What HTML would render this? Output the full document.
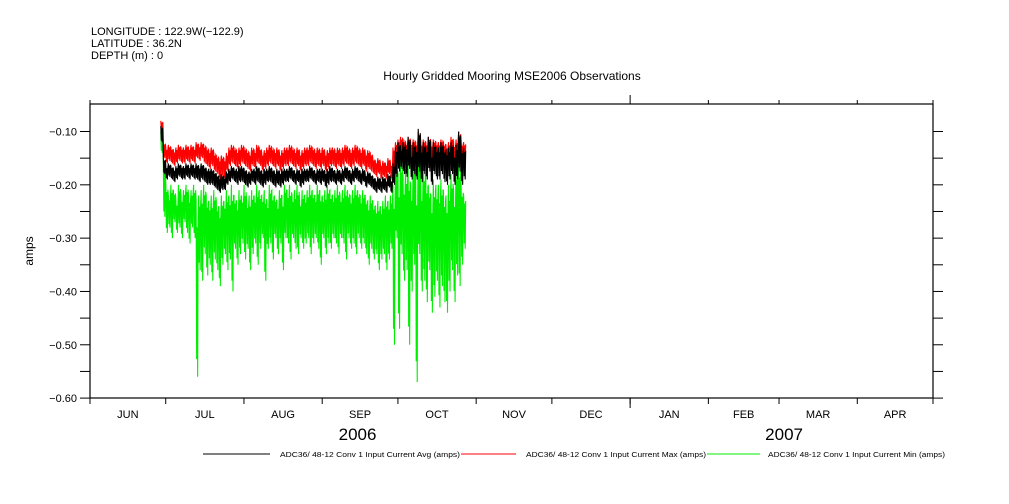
<!DOCTYPE html>
<html><head><meta charset="utf-8"><style>
html,body{margin:0;padding:0;background:#fff;}
svg{display:block;font-family:"Liberation Sans",sans-serif;}
</style></head><body>
<svg id="chart" width="1009" height="504" viewBox="0 0 1009 504" xmlns="http://www.w3.org/2000/svg">
<g font-size="11" fill="#000">
<text x="91" y="35">LONGITUDE : 122.9W(−122.9)</text>
<text x="91" y="47">LATITUDE : 36.2N</text>
<text x="91" y="59">DEPTH (m) : 0</text>
</g>
<text x="512" y="80" font-size="12" text-anchor="middle">Hourly Gridded Mooring MSE2006 Observations</text>
<text x="33" y="251" font-size="12" text-anchor="middle" transform="rotate(-90 33 251)">amps</text>
<g id="axes"></g>
<g id="series"></g>
<g id="legend" font-size="7">
<line x1="203" y1="454" x2="270" y2="454" stroke="#000"/>
<text x="280" y="457" textLength="180" lengthAdjust="spacingAndGlyphs">ADC36/ 48-12 Conv 1 Input Current Avg (amps)</text>
<line x1="461" y1="454" x2="516" y2="454" stroke="#ff0000"/>
<text x="526" y="457" textLength="180" lengthAdjust="spacingAndGlyphs">ADC36/ 48-12 Conv 1 Input Current Max (amps)</text>
<line x1="707" y1="454" x2="760" y2="454" stroke="#00ee00"/>
<text x="768" y="457" textLength="177" lengthAdjust="spacingAndGlyphs">ADC36/ 48-12 Conv 1 Input Current Min (amps)</text>
</g>
</svg>
<script>
// days since 2006-06-01, data days 28..148
const startDay = 28;
const yTicks = [-0.10,-0.20,-0.30,-0.40,-0.50,-0.60];
const yTickLabels = ["-0.10","-0.20","-0.30","-0.40","-0.50","-0.60"];
const monthStarts = [0,30,61,92,122,153,183,214,245,273,304,334];
const monthLabels = ["JUN","JUL","AUG","SEP","OCT","NOV","DEC","JAN","FEB","MAR","APR"];
const yearLabels = ["2006","2007"];
const yearCenters = [106,275];
const maxHi = [-0.08,-0.12,-0.13,-0.125,-0.13,-0.135,-0.13,-0.125,-0.13,-0.13,
-0.125,-0.13,-0.125,-0.13,-0.12,-0.125,-0.12,-0.125,-0.13,-0.135,
-0.13,-0.14,-0.145,-0.15,-0.145,-0.15,-0.14,-0.13,-0.125,-0.13,
-0.135,-0.13,-0.125,-0.13,-0.135,-0.14,-0.13,-0.135,-0.125,-0.13,
-0.14,-0.135,-0.13,-0.125,-0.13,-0.135,-0.13,-0.14,-0.135,-0.13,
-0.13,-0.125,-0.13,-0.135,-0.13,-0.14,-0.135,-0.13,-0.13,-0.125,
-0.13,-0.135,-0.13,-0.135,-0.13,-0.14,-0.135,-0.13,-0.13,-0.135,
-0.13,-0.135,-0.13,-0.125,-0.13,-0.135,-0.13,-0.125,-0.13,-0.135,
-0.13,-0.14,-0.135,-0.14,-0.15,-0.155,-0.15,-0.16,-0.155,-0.16,
-0.15,-0.16,-0.13,-0.12,-0.115,-0.11,-0.115,-0.12,-0.11,-0.12,
-0.115,-0.12,-0.10,-0.12,-0.115,-0.12,-0.11,-0.12,-0.115,-0.12,
-0.12,-0.115,-0.12,-0.125,-0.12,-0.11,-0.12,-0.115,-0.10,-0.12,-0.12];
const maxLo = [-0.10,-0.15,-0.16,-0.155,-0.16,-0.165,-0.16,-0.155,-0.16,-0.16,
-0.155,-0.16,-0.155,-0.16,-0.15,-0.155,-0.15,-0.16,-0.165,-0.17,
-0.165,-0.175,-0.18,-0.19,-0.185,-0.19,-0.175,-0.165,-0.16,-0.165,
-0.17,-0.165,-0.16,-0.165,-0.17,-0.175,-0.165,-0.17,-0.16,-0.165,
-0.175,-0.17,-0.165,-0.16,-0.165,-0.17,-0.165,-0.175,-0.17,-0.165,
-0.165,-0.16,-0.165,-0.17,-0.165,-0.175,-0.17,-0.165,-0.165,-0.16,
-0.165,-0.17,-0.165,-0.17,-0.165,-0.175,-0.17,-0.165,-0.165,-0.17,
-0.165,-0.17,-0.165,-0.16,-0.165,-0.17,-0.165,-0.16,-0.165,-0.17,
-0.165,-0.175,-0.17,-0.175,-0.18,-0.185,-0.18,-0.19,-0.185,-0.19,
-0.18,-0.19,-0.17,-0.155,-0.15,-0.145,-0.15,-0.155,-0.145,-0.155,
-0.15,-0.16,-0.15,-0.165,-0.155,-0.16,-0.15,-0.175,-0.155,-0.16,
-0.16,-0.15,-0.165,-0.17,-0.16,-0.15,-0.18,-0.16,-0.15,-0.165,-0.16];
const avgHi = [-0.09,-0.15,-0.165,-0.16,-0.165,-0.17,-0.165,-0.16,-0.165,-0.165,
-0.16,-0.165,-0.16,-0.165,-0.16,-0.165,-0.16,-0.165,-0.17,-0.17,
-0.17,-0.175,-0.18,-0.185,-0.18,-0.185,-0.175,-0.17,-0.165,-0.17,
-0.17,-0.165,-0.165,-0.17,-0.175,-0.175,-0.17,-0.17,-0.165,-0.17,
-0.175,-0.17,-0.17,-0.165,-0.17,-0.175,-0.17,-0.175,-0.17,-0.17,
-0.17,-0.165,-0.17,-0.175,-0.17,-0.175,-0.17,-0.17,-0.17,-0.165,
-0.17,-0.175,-0.17,-0.17,-0.17,-0.175,-0.17,-0.165,-0.17,-0.175,
-0.17,-0.175,-0.17,-0.165,-0.17,-0.175,-0.17,-0.165,-0.17,-0.175,
-0.17,-0.18,-0.175,-0.18,-0.185,-0.19,-0.185,-0.19,-0.185,-0.19,
-0.18,-0.19,-0.16,-0.13,-0.12,-0.13,-0.12,-0.125,-0.11,-0.14,
-0.12,-0.13,-0.095,-0.13,-0.12,-0.13,-0.11,-0.14,-0.12,-0.13,
-0.13,-0.12,-0.13,-0.135,-0.13,-0.12,-0.14,-0.125,-0.10,-0.13,-0.13];
const avgLo = [-0.12,-0.18,-0.19,-0.185,-0.19,-0.195,-0.19,-0.185,-0.19,-0.19,
-0.185,-0.19,-0.185,-0.19,-0.19,-0.195,-0.19,-0.195,-0.2,-0.2,
-0.2,-0.205,-0.21,-0.215,-0.21,-0.21,-0.2,-0.195,-0.19,-0.195,
-0.2,-0.195,-0.195,-0.2,-0.205,-0.2,-0.195,-0.2,-0.195,-0.2,
-0.205,-0.2,-0.195,-0.195,-0.2,-0.205,-0.2,-0.205,-0.2,-0.195,
-0.195,-0.19,-0.195,-0.2,-0.195,-0.205,-0.2,-0.195,-0.195,-0.19,
-0.195,-0.2,-0.195,-0.2,-0.195,-0.205,-0.2,-0.195,-0.195,-0.2,
-0.195,-0.2,-0.195,-0.19,-0.195,-0.2,-0.195,-0.19,-0.195,-0.2,
-0.195,-0.205,-0.2,-0.205,-0.21,-0.215,-0.21,-0.215,-0.21,-0.215,
-0.205,-0.215,-0.2,-0.185,-0.175,-0.17,-0.18,-0.185,-0.17,-0.19,
-0.18,-0.19,-0.175,-0.195,-0.18,-0.19,-0.175,-0.2,-0.18,-0.19,
-0.19,-0.18,-0.195,-0.2,-0.19,-0.18,-0.2,-0.19,-0.175,-0.2,-0.19];
const minHi = [-0.10,-0.16,-0.2,-0.22,-0.2,-0.21,-0.23,-0.2,-0.22,-0.21,
-0.2,-0.22,-0.21,-0.2,-0.23,-0.22,-0.21,-0.2,-0.22,-0.23,
-0.22,-0.21,-0.23,-0.24,-0.22,-0.23,-0.21,-0.22,-0.2,-0.22,
-0.23,-0.21,-0.22,-0.2,-0.23,-0.22,-0.21,-0.22,-0.2,-0.21,
-0.22,-0.21,-0.23,-0.2,-0.21,-0.22,-0.23,-0.21,-0.22,-0.2,
-0.21,-0.2,-0.22,-0.21,-0.2,-0.23,-0.21,-0.22,-0.21,-0.2,
-0.21,-0.22,-0.2,-0.21,-0.22,-0.21,-0.2,-0.21,-0.22,-0.21,
-0.2,-0.22,-0.21,-0.2,-0.21,-0.22,-0.21,-0.2,-0.21,-0.22,
-0.21,-0.22,-0.23,-0.22,-0.23,-0.24,-0.23,-0.24,-0.23,-0.22,
-0.23,-0.22,-0.2,-0.16,-0.18,-0.15,-0.19,-0.17,-0.16,-0.2,
-0.15,-0.18,-0.14,-0.2,-0.16,-0.18,-0.2,-0.22,-0.19,-0.2,
-0.2,-0.19,-0.21,-0.22,-0.2,-0.18,-0.21,-0.16,-0.15,-0.2,-0.22];
const minLo = [-0.14,-0.26,-0.29,-0.28,-0.3,-0.27,-0.29,-0.28,-0.3,-0.27,
-0.29,-0.31,-0.28,-0.3,-0.56,-0.36,-0.38,-0.33,-0.37,-0.35,
-0.38,-0.34,-0.36,-0.39,-0.35,-0.33,-0.36,-0.34,-0.4,-0.32,
-0.35,-0.33,-0.31,-0.34,-0.32,-0.36,-0.33,-0.31,-0.35,-0.32,
-0.3,-0.38,-0.32,-0.31,-0.34,-0.3,-0.33,-0.31,-0.36,-0.3,
-0.31,-0.34,-0.3,-0.32,-0.33,-0.3,-0.32,-0.31,-0.3,-0.33,
-0.31,-0.3,-0.32,-0.35,-0.3,-0.33,-0.31,-0.32,-0.3,-0.31,
-0.33,-0.3,-0.31,-0.34,-0.3,-0.32,-0.31,-0.33,-0.3,-0.32,
-0.31,-0.33,-0.35,-0.32,-0.34,-0.33,-0.36,-0.34,-0.33,-0.36,
-0.34,-0.32,-0.5,-0.3,-0.47,-0.33,-0.38,-0.36,-0.5,-0.4,
-0.35,-0.57,-0.33,-0.4,-0.38,-0.42,-0.36,-0.44,-0.41,-0.38,
-0.43,-0.39,-0.42,-0.44,-0.4,-0.36,-0.42,-0.37,-0.39,-0.35,-0.32];

const X0 = 90, X1 = 933, Y0 = 104, Y1 = 398;
const totalDays = 334;
function xs(d){ return X0 + d*(X1-X0)/totalDays; }
function ys(v){ return 131.5 + (-0.10 - v)*533.2; }
const NS = "http://www.w3.org/2000/svg";
function mk(tag, attrs, parent){ const e=document.createElementNS(NS,tag); for(const k in attrs) e.setAttribute(k,attrs[k]); parent.appendChild(e); return e; }

const axes = document.getElementById('axes');
const frame = mk('rect',{x:X0,y:Y0,width:X1-X0,height:Y1-Y0,fill:'none',stroke:'#000','stroke-width':1.2},axes);


for(let i=0;i<yTicks.length;i++){
  const y=ys(yTicks[i]);
  const t=mk('line',{x1:X0-10,y1:y,x2:X0,y2:y,stroke:'#000'},axes);
  
  
  const t2=mk('line',{x1:X1,y1:y,x2:X1+10,y2:y,stroke:'#000'},axes);
  
  
  const lb=mk('text',{x:X0-13,y:y+4,'font-size':11,'text-anchor':'end'},axes);
  lb.textContent=yTickLabels[i].replace('-','\u2212');
  
  
  if(i<yTicks.length-1){
    const ym=ys(yTicks[i]-0.05);
    const m=mk('line',{x1:X0-10,y1:ym,x2:X0,y2:ym,stroke:'#000'},axes);
    
    
    const m2=mk('line',{x1:X1,y1:ym,x2:X1+10,y2:ym,stroke:'#000'},axes);
    
    
  }
}
for(let i=0;i<monthStarts.length;i++){
  const x=xs(monthStarts[i]);
  const big = monthStarts[i]===214;
  const t=mk('line',{x1:x,y1:Y1,x2:x,y2:Y1+6,stroke:'#000'},axes);
  
  
  const t2=mk('line',{x1:x,y1:Y0,x2:x,y2:Y0-(big?9:4),stroke:'#000'},axes);
  
  
  if(big){
    const t3=mk('line',{x1:x,y1:Y1,x2:x,y2:Y1+10,stroke:'#000'},axes);
    
    
  }
  if(i<monthLabels.length){
    const lb=mk('text',{x:(x+xs(monthStarts[i+1]))/2,y:418,'font-size':11,'text-anchor':'middle'},axes);
    lb.textContent=monthLabels[i];
    
    
  }
}
for(let i=0;i<yearLabels.length;i++){
  const lb=mk('text',{x:xs(yearCenters[i]),y:440,'font-size':17,'text-anchor':'middle'},axes);
  lb.textContent=yearLabels[i];
  
  
}
const series = document.getElementById('series');
function draw(hi, lo, color, name){
  const pts=[];
  for(let i=0;i<hi.length;i++){
    const d=startDay+i, r=lo[i]-hi[i];
    pts.push(xs(d+0.05).toFixed(2)+','+ys(hi[i]).toFixed(2));
    pts.push(xs(d+0.25).toFixed(2)+','+ys(hi[i]+r*0.9).toFixed(2));
    pts.push(xs(d+0.45).toFixed(2)+','+ys(hi[i]+r*0.15).toFixed(2));
    pts.push(xs(d+0.65).toFixed(2)+','+ys(lo[i]).toFixed(2));
    pts.push(xs(d+0.85).toFixed(2)+','+ys(hi[i]+r*0.1).toFixed(2));
  }
  const p=mk('polyline',{points:pts.join(' '),fill:'none',stroke:color,'stroke-width':1.1},series);
  
  
}
draw(minHi,minLo,'#00ee00','series-min');
draw(maxHi,maxLo,'#ff0000','series-max');
draw(avgHi,avgLo,'#000000','series-avg');
</script>
</body></html>
